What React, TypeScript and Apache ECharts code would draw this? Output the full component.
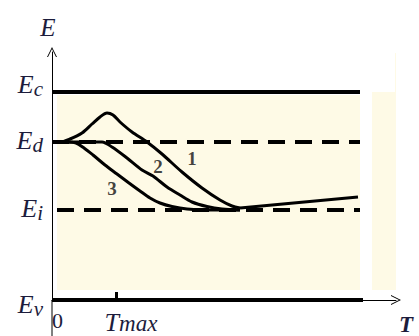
import React, { useEffect, useRef } from "react";
import * as echarts from "echarts";

// Energy levels (arbitrary units) and their subscripts
const levelNames = ["c", "d", "i", "v"];
const levelValues = [20.8, 15.8, 9.0, 0];
const levelDashed = [false, true, true, false];
const levelStart = [0, 0, 5, 0];
const levelEnd = [308, 308, 308, 311];

// x-axis marks: 0 and T_max
const xTickValue = 64;
const xLabelValues = [0, 64];

// Curves 1, 2, 3 [T, E]
const curve1 = [
  [0, 15.8], [8, 15.8], [18, 16.1], [30, 16.7], [40, 17.6], [48, 18.3], [55, 18.7],
  [61, 18.5], [68, 17.8], [80, 16.8], [95, 15.8], [110, 14.6], [130, 12.8],
  [150, 11.2], [168, 10.0], [180, 9.4], [188, 9.2],
];
const curve2 = [
  [0, 15.8], [30, 15.8], [50, 15.8], [60, 15.3], [75, 14.2], [90, 13.0], [101, 12.4],
  [115, 11.3], [128, 10.5], [140, 9.8], [155, 9.35], [170, 9.1], [188, 9.0],
];
const curve3 = [
  [14, 15.8], [24, 15.7], [32, 15.2], [41, 14.5], [53, 13.5], [65, 12.6], [77, 11.7],
  [88, 10.9], [98, 10.2], [108, 9.7], [120, 9.35], [135, 9.1], [155, 9.0], [188, 9.0],
];
const tail = [[188, 9.2], [306, 10.3]];
const curveLabels = [
  [140, 14.2, "1"],
  [106, 13.4, "2"],
  [60, 11.2, "3"],
];
// light background shading [x1, y1, x2, y2]
const shade = [
  [5, 20.5, 308, 1.0],
  [320, 20.8, 355, 1.0],
  [343, 24.7, 355, 20.8],
];
// part of the E axis drawn below the T axis
const axisBelow = [[0, 0], [0, -3.6]];

const chevron = "path://M0,10 L5,0 L10,10 L9,10 L5,2 L1,10 Z";
const textColor = "#1c1c3c";
const serif = "Liberation Serif";
// vertical nudge of each level label (px, + = up)
const labelNudge = [7, 1, 1, -5];

export default function App() {
  const ref = useRef<HTMLDivElement>(null);
  useEffect(() => {
    if (!ref.current) return;
    const chart = echarts.init(ref.current, null, { renderer: "svg" });
    const levelSeries = levelValues.map((v, i) => ({
      type: "line",
      data: [[levelStart[i], v], [levelEnd[i], v]],
      symbol: "none",
      silent: true,
      clip: false,
      lineStyle: { color: "#000", width: 4, type: levelDashed[i] ? [17, 10] : "solid" },
      z: 3,
    }));
    const curveSeries = [curve1, curve2, curve3].map((c) => ({
      type: "line",
      data: c,
      smooth: 0.3,
      symbol: "none",
      silent: true,
      lineStyle: { color: "#000", width: 3 },
      z: 4,
    }));
    const yRich: any = {
      E: { fontFamily: serif, fontStyle: "italic", fontSize: 26, color: textColor, verticalAlign: "top", lineHeight: 28 },
      s: { fontFamily: serif, fontStyle: "italic", fontSize: 21, color: textColor, verticalAlign: "bottom", lineHeight: 12 },
    };
    labelNudge.forEach((n, i) => {
      yRich["g" + i] = { fontSize: 1, lineHeight: Math.max(1, Math.abs(n) * 2) };
    });
    chart.setOption({
      animation: false,
      grid: { left: 52, right: 23, top: 52, bottom: 36, containLabel: false, outerBoundsMode: "none" },
      xAxis: {
        type: "value",
        min: 0,
        max: 344,
        name: "T",
        nameLocation: "end",
        nameGap: 3,
        nameTextStyle: {
          fontFamily: serif, fontStyle: "italic", fontWeight: "bold", fontSize: 23,
          color: textColor, align: "left", verticalAlign: "top", padding: [13, 0, 0, 0],
        },
        axisLine: {
          onZero: true,
          symbol: ["none", chevron],
          symbolSize: [10, 10],
          lineStyle: { color: "#000", width: 1 },
        },
        axisTick: {
          show: true, customValues: [xTickValue], inside: true, length: 8,
          lineStyle: { color: "#000", width: 3 },
        },
        axisLabel: {
          customValues: xLabelValues,
          margin: 9,
          formatter: (v: number) => (v === 0 ? "{z|0}" : "{T|T}{m|max}"),
          rich: {
            z: { fontFamily: serif, fontSize: 22, color: textColor, padding: [0, 0, 0, 11] },
            T: { fontFamily: serif, fontStyle: "italic", fontSize: 26, color: textColor, padding: [0, 0, 0, 30], verticalAlign: "top", lineHeight: 26 },
            m: { fontFamily: serif, fontStyle: "italic", fontSize: 23, color: textColor, verticalAlign: "bottom", lineHeight: 12 },
          },
        },
        splitLine: { show: false },
      },
      yAxis: {
        type: "value",
        min: 0,
        max: 24.8,
        name: "E",
        nameLocation: "end",
        nameGap: 12,
        nameTextStyle: {
          fontFamily: serif, fontStyle: "italic", fontSize: 25, color: textColor,
          padding: [0, 8, 0, 0],
        },
        axisLine: {
          show: true,
          symbol: ["none", chevron],
          symbolSize: [10, 10],
          lineStyle: { color: "#000", width: 1 },
        },
        axisTick: { show: false },
        axisLabel: {
          customValues: levelValues,
          margin: 9,
          formatter: (v: number) => {
            let best = 0;
            levelValues.forEach((y, i) => {
              if (Math.abs(y - v) < Math.abs(levelValues[best] - v)) best = i;
            });
            const main = "{E|E}{s|" + levelNames[best] + "}";
            const gap = "{g" + best + "| }";
            return labelNudge[best] >= 0 ? main + "\n" + gap : gap + "\n" + main;
          },
          rich: yRich,
        },
        splitLine: { show: false },
      },
      series: [
        {
          type: "line",
          data: [],
          silent: true,
          clip: false,
          markArea: {
            silent: true,
            itemStyle: { color: "#fefae6" },
            data: shade.map((s) => [{ coord: [s[0], s[1]] }, { coord: [s[2], s[3]] }]),
          },
          z: 1,
        },
        {
          type: "line",
          data: axisBelow,
          symbol: "none",
          silent: true,
          clip: false,
          lineStyle: { color: "#000", width: 1 },
          z: 2,
        },
        ...levelSeries,
        ...curveSeries,
        {
          type: "line",
          data: tail,
          symbol: "none",
          silent: true,
          lineStyle: { color: "#000", width: 3 },
          z: 4,
        },
        {
          type: "scatter",
          data: curveLabels,
          symbolSize: 0,
          silent: true,
          label: {
            show: true,
            position: "inside",
            formatter: (p: any) => p.data[2],
            fontFamily: serif,
            fontWeight: "bold",
            fontSize: 19,
            color: "#111",
          },
          z: 5,
        },
      ],
    });
    return () => chart.dispose();
  }, []);
  return (
    <div
      ref={ref}
      style={{ position: "fixed", left: 0, top: 0, width: 419, height: 336, background: "#fff" }}
    />
  );
}
